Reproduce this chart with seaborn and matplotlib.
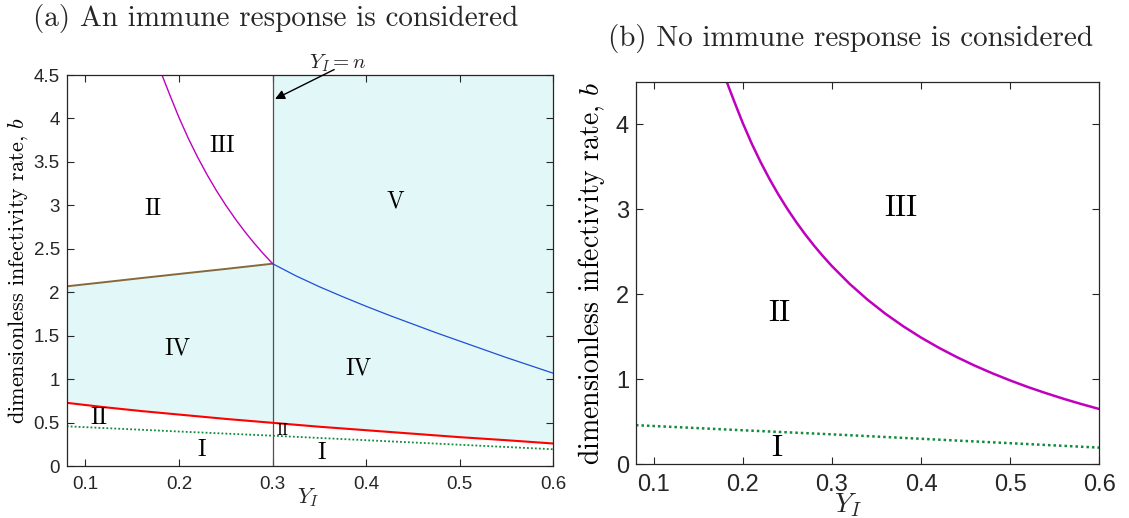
import matplotlib
matplotlib.use("Agg")
import matplotlib.pyplot as plt
import pandas as pd
import seaborn as sns

# threshold Y_I = n
n_threshold = 0.3

# boundary curves in the (Y_I, b) plane
yi_low = [0.08, 0.12, 0.16, 0.20, 0.25, 0.30, 0.35, 0.40, 0.45, 0.50, 0.55, 0.60]
b_red = [0.73, 0.68, 0.635, 0.595, 0.545, 0.50, 0.455, 0.415, 0.375, 0.335, 0.30, 0.262]
b_green = [0.46, 0.44, 0.42, 0.40, 0.376, 0.352, 0.326, 0.30, 0.274, 0.248, 0.222, 0.196]

yi_brown = [0.08, 0.12, 0.16, 0.20, 0.25, 0.30]
b_brown = [2.07, 2.117, 2.165, 2.212, 2.27, 2.33]

yi_blue = [0.30, 0.325, 0.35, 0.375, 0.40, 0.425, 0.45, 0.475, 0.50, 0.525, 0.55, 0.575, 0.60]
b_blue = [2.33, 2.19, 2.065, 1.95, 1.84, 1.735, 1.635, 1.535, 1.44, 1.345, 1.25, 1.16, 1.07]

yi_mag = [0.18, 0.19, 0.20, 0.21, 0.22, 0.23, 0.24, 0.25, 0.26, 0.27, 0.28, 0.29, 0.30,
          0.32, 0.34, 0.36, 0.38, 0.40, 0.42, 0.44, 0.46, 0.48, 0.50, 0.52, 0.54, 0.56,
          0.58, 0.60]
b_mag = [4.55, 4.275, 4.01, 3.77, 3.552, 3.353, 3.17, 3.002, 2.847, 2.703, 2.57, 2.446, 2.33,
         2.12, 1.935, 1.77, 1.623, 1.49, 1.37, 1.261, 1.161, 1.07, 0.986, 0.908, 0.837, 0.77,
         0.708, 0.65]

# region labels
labels_a = ["III", "II", "V", "IV", "IV", "II", "II", "I", "I"]
x_a = [0.246, 0.1725, 0.431, 0.198, 0.392, 0.1145, 0.311, 0.224, 0.352]
y_a = [3.68, 2.965, 3.05, 1.36, 1.12, 0.556, 0.414, 0.19, 0.153]
size_a = [17, 17, 17, 17, 17, 17, 12, 17, 17]

labels_b = ["III", "II", "I"]
x_b = [0.377, 0.2406, 0.2385]
y_b = [3.01, 1.78, 0.184]

xticks = [0.1, 0.2, 0.3, 0.4, 0.5, 0.6]
yticks_a = [0, 0.5, 1, 1.5, 2, 2.5, 3, 3.5, 4, 4.5]
yticks_b = [0, 1, 2, 3, 4]
x_lim = (0.08, 0.6)
b_top = 4.5

sns.set_theme(style="ticks")
plt.rcParams["font.family"] = ["cmr10", "DejaVu Serif"]
plt.rcParams["mathtext.fontset"] = "cm"
plt.rcParams["axes.unicode_minus"] = False

FILL = "#e2f7f7"
MAG = "#bf00bf"
RED = "#ff0000"
GREEN = "#118a3c"
BROWN = "#86693a"
BLUE = "#1f4fd8"
AX = "#262626"

fig = plt.figure(figsize=(11.29, 5.18), dpi=100)
ax_a = fig.add_axes([0.0591, 0.0998, 0.431, 0.7554])
ax_b = fig.add_axes([0.5633, 0.1037, 0.4104, 0.7386])

low = pd.DataFrame({"Y_I": yi_low, "red": b_red, "green": b_green})
brown = pd.DataFrame({"Y_I": yi_brown, "b": b_brown})
blue = pd.DataFrame({"Y_I": yi_blue, "b": b_blue})
mag = pd.DataFrame({"Y_I": yi_mag, "b": b_mag})

left_low = low[low["Y_I"] <= n_threshold]
right_low = low[low["Y_I"] >= n_threshold]

# (a) shaded regions IV / V
ax_a.fill_between(left_low["Y_I"], left_low["red"], brown["b"], color=FILL, lw=0, zorder=0)
ax_a.fill_between(right_low["Y_I"], right_low["red"], b_top, color=FILL, lw=0, zorder=0)

sns.lineplot(data=low, x="Y_I", y="green", ax=ax_a, color=GREEN, lw=1.3,
             linestyle=(0, (1, 1.2)), sort=False)
sns.lineplot(data=low, x="Y_I", y="red", ax=ax_a, color=RED, lw=1.5, sort=False)
sns.lineplot(data=brown, x="Y_I", y="b", ax=ax_a, color=BROWN, lw=1.4, sort=False)
sns.lineplot(data=blue, x="Y_I", y="b", ax=ax_a, color=BLUE, lw=0.9, sort=False)
sns.lineplot(data=mag[mag["Y_I"] <= n_threshold], x="Y_I", y="b", ax=ax_a,
             color=MAG, lw=1.0, sort=False)
ax_a.axvline(n_threshold, color="#505050", lw=0.9, zorder=1)

ax_a.annotate("", xy=(n_threshold, 4.21), xytext=(0.3685, 4.577),
              arrowprops=dict(arrowstyle="-|>", color="black", lw=1.0, mutation_scale=14),
              annotation_clip=False)
ax_a.text(0.369, 4.635, r"$Y_I = n$", ha="center", va="center", fontsize=15,
          clip_on=False)

for lab, x, y, s in zip(labels_a, x_a, y_a, size_a):
    ax_a.text(x, y, lab, ha="center", va="center", fontsize=s, color="black")

# (b) no immune response
sns.lineplot(data=low, x="Y_I", y="green", ax=ax_b, color=GREEN, lw=1.8,
             linestyle=(0, (1, 1.2)), sort=False)
sns.lineplot(data=mag, x="Y_I", y="b", ax=ax_b, color=MAG, lw=1.8, sort=False)
for lab, x, y in zip(labels_b, x_b, y_b):
    ax_b.text(x, y, lab, ha="center", va="center", fontsize=22, color="black")

for ax, yt, tsz, lsz in ((ax_a, yticks_a, 13.5, 16), (ax_b, yticks_b, 17, 20)):
    ax.set_xlim(*x_lim)
    ax.set_ylim(0, b_top)
    ax.set_xticks(xticks)
    ax.set_yticks(yt)
    ax.set_xticklabels([f"{v:g}" for v in xticks])
    ax.set_yticklabels([f"{v:g}" for v in yt])
    ax.tick_params(direction="in", top=True, right=True, length=5, width=0.8,
                   color=AX, labelcolor=AX, labelsize=tsz,
                   labelfontfamily="Liberation Sans")
    ax.tick_params(axis="x", pad=7)
    ax.tick_params(axis="y", pad=5)
    for sp in ax.spines.values():
        sp.set_visible(True)
        sp.set_color(AX)
        sp.set_linewidth(0.9)
    ax.set_facecolor("white")
    ax.set_xlabel(r"$Y_I$", fontsize=lsz, color=AX)
    ax.set_ylabel(r"dimensionless infectivity rate, $b$", fontsize=lsz, color="black")

ax_a.xaxis.set_label_coords(0.496, -0.05)
ax_a.yaxis.set_label_coords(-0.075, 0.5)
ax_b.xaxis.set_label_coords(0.457, -0.07)
ax_b.yaxis.set_label_coords(-0.063, 0.5)

fig.text(0.029, 0.965, "(a) An immune response is considered", ha="left", va="center",
         fontsize=21)
fig.text(0.968, 0.925, "(b) No immune response is considered", ha="right", va="center",
         fontsize=21)

fig.savefig("out.png", dpi=100, facecolor="white")
